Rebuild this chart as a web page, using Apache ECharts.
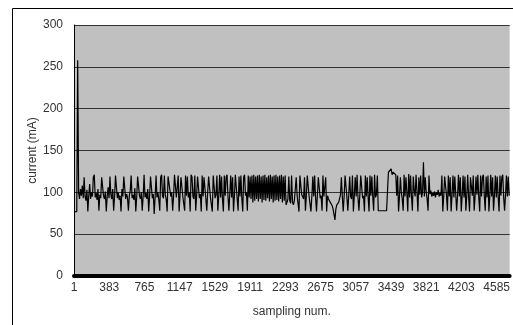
<!DOCTYPE html>
<html>
<head>
<meta charset="utf-8">
<script src="https://cdn.jsdelivr.net/npm/echarts@6/dist/echarts.min.js"></script>
<style>
  html, body { margin: 0; padding: 0; background: #fff; overflow: hidden; }
  #showChart { width: 513px; height: 325px; }
</style>
</head>
<body>
<div id="showChart"></div>
<script>
// sampling step between the values below (samples)
var sampleStep = 10;
var firstSample = 1;
var lastSample = 4726;
var tickStep = 382;
var yTicks = [0, 50, 100, 150, 200, 250, 300];

// current (mA), every 10 samples
var current = [
    77, 77, 77, 77, 258, 100, 92, 104, 96, 108, 93, 118, 95, 90, 103, 77, 96, 110, 92, 100,
    95, 118, 121, 94, 99, 91, 104, 78, 97, 93, 118, 120, 96, 92, 101, 77, 95, 106, 93, 119,
    97, 92, 104, 78, 95, 120, 118, 93, 100, 91, 96, 77, 104, 95, 119, 121, 92, 98, 94, 78,
    96, 102, 120, 93, 97, 91, 105, 77, 94, 119, 118, 96, 92, 100, 78, 95, 121, 94, 99, 92,
    104, 77, 96, 119, 120, 93, 98, 74, 95, 120, 94, 100, 91, 78, 118, 121, 96, 93, 120, 97,
    92, 77, 119, 120, 118, 95, 100, 78, 96, 121, 119, 94, 92, 120, 77, 97, 118, 120, 95, 93,
    78, 120, 96, 119, 94, 100, 77, 121, 118, 95, 92, 120, 78, 96, 119, 121, 93, 98, 77, 120,
    95, 118, 120, 92, 78, 100, 119, 121, 94, 96, 77, 120, 118, 93, 97, 120, 78, 95, 121, 94,
    119, 92, 77, 120, 96, 118, 121, 95, 78, 99, 120, 94, 118, 77, 96, 121, 120, 92, 78, 119,
    95, 120, 93, 77, 118, 121, 96, 100, 78, 120, 94, 119, 92, 120, 88, 121, 90, 119, 92, 120,
    89, 121, 92, 119, 88, 120, 91, 121, 90, 118, 93, 120, 89, 121, 92, 119, 88, 120, 90, 121,
    91, 119, 89, 120, 92, 121, 88, 119, 90, 120, 85, 88, 92, 119, 90, 87, 120, 88, 85, 90,
    89, 118, 96, 95, 77, 120, 119, 97, 95, 92, 118, 78, 96, 120, 121, 95, 93, 77, 96, 119,
    95, 120, 94, 77, 97, 118, 120, 93, 96, 78, 120, 95, 94, 118, 77, 96, 92, 90, 88, 88,
    84, 80, 82, 67, 80, 85, 86, 88, 88, 97, 118, 95, 77, 96, 120, 121, 94, 78, 97, 119,
    95, 92, 120, 77, 96, 118, 95, 121, 94, 78, 97, 120, 119, 93, 96, 77, 120, 95, 118, 94,
    77, 120, 96, 119, 95, 78, 121, 94, 97, 120, 78, 78, 78, 78, 79, 78, 78, 77, 78, 78,
    78, 124, 122, 125, 128, 121, 124, 122, 126, 121, 96, 120, 77, 95, 118, 100, 92, 78, 121, 95,
    118, 100, 77, 122, 94, 120, 96, 78, 119, 102, 95, 121, 100, 77, 118, 97, 120, 94, 100, 136,
    95, 118, 100, 92, 78, 120, 98, 102, 95, 99, 96, 101, 94, 100, 97, 103, 95, 99, 96, 120,
    77, 95, 119, 121, 96, 78, 120, 95, 118, 77, 97, 120, 94, 119, 121, 78, 96, 121, 95, 118,
    77, 96, 120, 94, 119, 78, 96, 121, 95, 77, 118, 120, 96, 120, 78, 95, 119, 97, 121, 94,
    77, 120, 95, 118, 121, 96, 78, 119, 94, 120, 77, 96, 121, 95, 118, 78, 97, 120, 94, 119,
    95, 77, 120, 96, 118, 121, 94, 78, 97, 120, 95, 119, 96
];

var data = [];
for (var i = 0; i < current.length; i++) {
    data.push([firstSample + i * sampleStep, current[i]]);
}

var labelFont = {
    fontFamily: 'Liberation Sans, Arial, sans-serif',
    fontSize: 12,
    color: '#333'
};

option = {
    animation: false,
    backgroundColor: '#fff',
    graphic: [{
        type: 'line',
        shape: { x1: 12.5, y1: 8.5, x2: 513, y2: 8.5 },
        style: { stroke: '#000', lineWidth: 1 }
    }, {
        type: 'line',
        shape: { x1: 12.5, y1: 8.5, x2: 12.5, y2: 325 },
        style: { stroke: '#000', lineWidth: 1 }
    }],
    grid: {
        left: 74,
        right: 0,
        top: 25,
        bottom: 49,
        show: true,
        backgroundColor: '#c0c0c0',
        borderWidth: 0
    },
    xAxis: {
        type: 'value',
        min: firstSample,
        max: lastSample,
        interval: tickStep,
        name: 'sampling num.',
        nameLocation: 'middle',
        nameGap: 30,
        nameMoveOverlap: false,
        nameTextStyle: labelFont,
        axisLine: { show: true, lineStyle: { color: '#000', width: 4 } },
        axisTick: { show: false },
        axisLabel: Object.assign({
            margin: 6,
            showMaxLabel: false,
            formatter: function (v) { return String(v); }
        }, labelFont),
        splitLine: { show: false }
    },
    yAxis: {
        type: 'value',
        min: yTicks[0],
        max: yTicks[yTicks.length - 1],
        interval: 50,
        name: 'current (mA)',
        nameLocation: 'middle',
        nameGap: 35,
        nameMoveOverlap: false,
        nameTextStyle: labelFont,
        axisLine: { show: true, lineStyle: { color: '#000', width: 1 } },
        axisTick: { show: false },
        axisLabel: Object.assign({ margin: 11 }, labelFont),
        splitLine: { show: true, lineStyle: { color: '#333', width: 1 } }
    },
    series: [{
        name: 'current',
        type: 'line',
        showSymbol: false,
        data: data,
        lineStyle: { color: '#000', width: 1.2 },
        z: 3
    }]
};

var chartOutChar = echarts.init(document.getElementById('showChart'));
chartOutChar.setOption(option);
</script>
</body>
</html>
